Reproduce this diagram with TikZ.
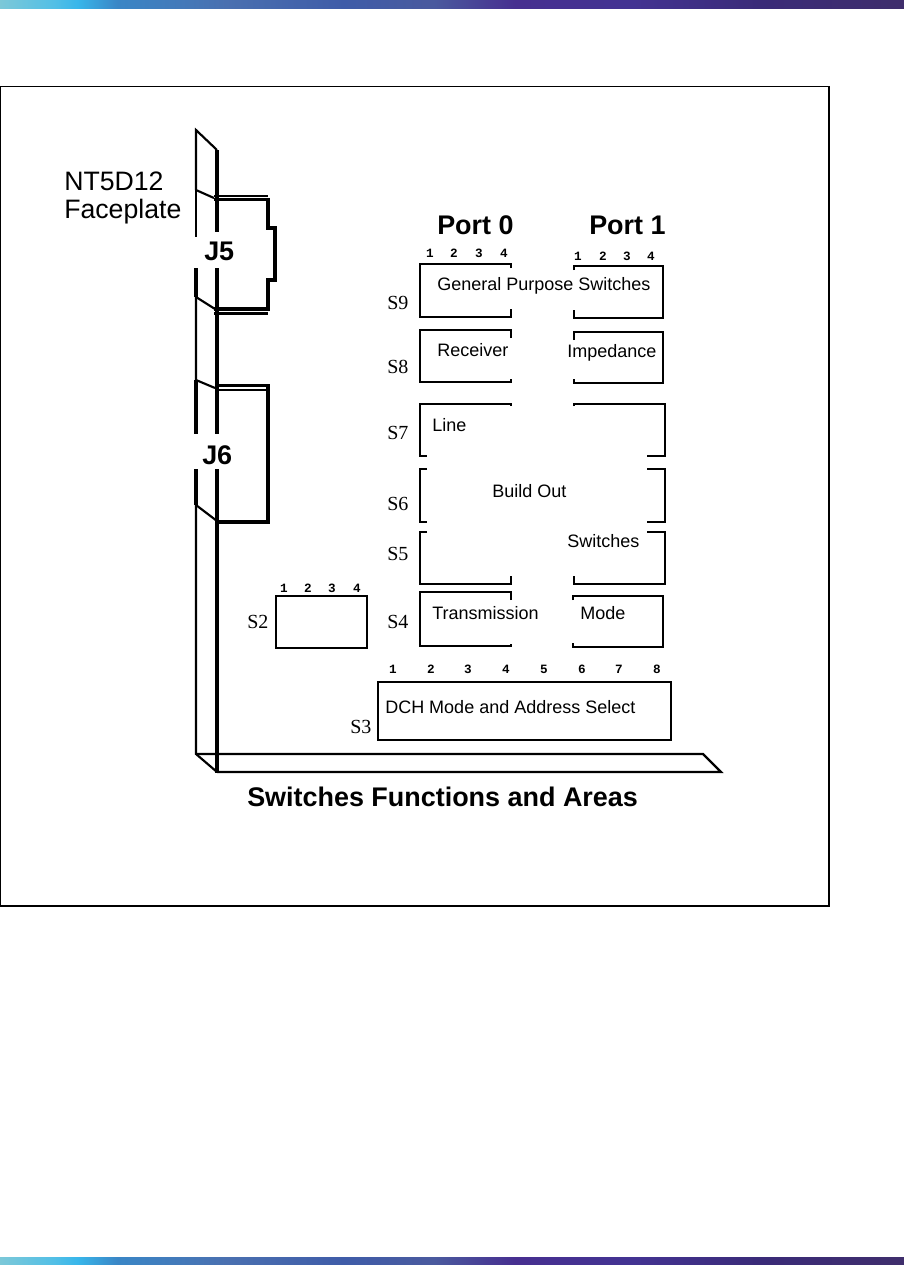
\documentclass[tikz,border=0pt]{standalone}
\usepackage{fontspec}
\setmainfont{Liberation Sans}
\newfontfamily\serifS{Liberation Serif}
\newfontfamily\monoD{Liberation Mono}[BoldFont={Liberation Mono Bold}]
\definecolor{c0}{HTML}{7CC8D8}\definecolor{c1}{HTML}{52BFE6}\definecolor{c2}{HTML}{38B6EA}
\definecolor{c3}{HTML}{3A86C6}\definecolor{c4}{HTML}{4A70B0}\definecolor{c5}{HTML}{3F5CA8}
\definecolor{c6}{HTML}{4A5A9E}\definecolor{c7}{HTML}{472F90}\definecolor{c8}{HTML}{433392}
\definecolor{c9}{HTML}{3A2B78}\definecolor{c10}{HTML}{3F2E6C}
\pgfdeclarehorizontalshading{bandshade}{100bp}{
 color(0bp)=(c0); color(25bp)=(c0); color(28bp)=(c1); color(29.3bp)=(c2); color(31.5bp)=(c3);
 color(37.5bp)=(c4); color(44bp)=(c5); color(49bp)=(c6); color(53.5bp)=(c7); color(60bp)=(c8);
 color(67bp)=(c9); color(75bp)=(c10); color(100bp)=(c10)}
\tikzset{
 x=0.75pt,y=-0.75pt,
 band/.style={shading=bandshade,shading angle=0,draw=none},
 frameline/.style={draw=black,line width=1.1pt},
 box/.style={draw=black,line width=1.7pt,line cap=butt,line join=miter},
 plate/.style={draw=black,line width=1.6pt,line join=miter},
 thick plate/.style={draw=black,line width=2.5pt,line join=miter},
 thin plate/.style={draw=black,line width=1pt},
 lbl/.style={inner sep=0pt,anchor=base west,font=\fontsize{13.5}{16}\selectfont},
 sname/.style={inner sep=0pt,anchor=base west,font=\serifS\fontsize{15}{18}\selectfont},
 dig/.style={inner sep=0pt,font=\monoD\bfseries\fontsize{9.5}{10}\selectfont},
 head/.style={inner sep=0pt,anchor=base west,font=\bfseries\fontsize{20.2}{24}\selectfont},
}
\begin{document}
\begin{tikzpicture}
\useasboundingbox (0,0) rectangle (904,1265);
\fill[white] (0,0) rectangle (904,1265);
\path[band] (0,0) rectangle (904,8);
\path[band] (0,1257) rectangle (904,1265);
\draw[frameline] (0.5,86.5) rectangle (829,906);

% faceplate
\draw[plate] (196,190) -- (196,130) -- (217,150);
\draw[plate] (196,190) -- (214,198);
\draw[plate] (196,190) -- (196,237);
\draw[plate] (196,297) -- (215,309);
\draw[thick plate] (196,268) -- (196,297);
\draw[plate] (196,297) -- (196,380) -- (215,388);
\draw[thick plate] (196,380) -- (196,434);
\draw[thick plate] (196,469) -- (196,505);
\draw[plate] (196,505) -- (217,521);
\draw[plate] (196,505) -- (196,754) -- (217,772);
\draw[thick plate] (217,150) -- (217,232);
\draw[thick plate] (217,268) -- (217,434);
\draw[thick plate] (217,469) -- (217,773);
% J5 connector
\draw[thick plate] (214,199.5) -- (268,199.5) -- (268,228) -- (275,228) -- (275,280) -- (268,280) -- (268,309) -- (214,309);
\draw[thin plate] (214,196) -- (268,196);
\draw[plate] (214,313.5) -- (268,313.5);
% J6 connector
\draw[thick plate] (216,385.5) -- (268,385.5) -- (268,522) -- (216,522);
\draw[thin plate] (216,390) -- (266,390);
% base
\draw[plate] (196,754) -- (703,754) -- (721,772) -- (217,772);

% S9
\draw[box] (511,268) -- (511,264) -- (420,264) -- (420,317) -- (511,317) -- (511,309);
\draw[box] (574,270) -- (574,266) -- (663,266) -- (663,318) -- (574,318) -- (574,310);
% S8
\draw[box] (511,338) -- (511,330) -- (420,330) -- (420,382) -- (511,382) -- (511,379);
\draw[box] (574,340) -- (574,332) -- (663,332) -- (663,383) -- (574,383) -- (574,379);
% S7
\draw[box] (511,406) -- (511,404) -- (420,404) -- (420,456) -- (427,456);
\draw[box] (574,406) -- (574,404) -- (665,404) -- (665,456) -- (647,456);
% S6
\draw[box] (427,469) -- (420,469) -- (420,522) -- (427,522);
\draw[box] (647,469) -- (665,469) -- (665,522) -- (647,522);
% S5
\draw[box] (427,532) -- (420,532) -- (420,584) -- (511,584) -- (511,576);
\draw[box] (647,532) -- (665,532) -- (665,584) -- (574,584) -- (574,576);
% S4
\draw[box] (511,600) -- (511,592) -- (420,592) -- (420,646) -- (511,646) -- (511,644);
\draw[box] (573,600) -- (573,596) -- (663,596) -- (663,647) -- (573,647) -- (573,643);
% S2, S3
\draw[box] (276,596) rectangle (367,648);
\draw[box] (378,682) rectangle (671,740);

% texts
\node[inner sep=0pt,anchor=base west,font=\fontsize{20}{24}\selectfont] (nt) at (64,190) {NT5D12};
\node[inner sep=0pt,anchor=base west,font=\fontsize{20}{24}\selectfont] (fp) at (64,218) {Faceplate};
\node[head] (p0) at (437,234) {Port 0};
\node[head] (p1) at (589,234) {Port 1};
\node[head] (j5) at (204,260) {J5};
\node[head] (j6) at (202,464) {J6};
\node[head] (title) at (247,806) {Switches Functions and Areas};

\node[lbl] (t1) at (437,290) {General Purpose Switches};
\node[lbl] (t2) at (437,356) {Receiver};
\node[lbl] (t3) at (567,357) {Impedance};
\node[lbl] (t4) at (432,431) {Line};
\node[lbl] (t5) at (492,497) {Build Out};
\node[lbl] (t6) at (567,547) {Switches};
\node[lbl] (t7) at (432,619) {Transmission};
\node[lbl] (t8) at (580,619) {Mode};
\node[lbl] (t9) at (385,713) {DCH Mode and Address Select};

\node[sname] (s9) at (387,309) {S9};
\node[sname] (s8) at (387,373) {S8};
\node[sname] (s7) at (387,439) {S7};
\node[sname] (s6) at (387,510) {S6};
\node[sname] (s5) at (387,560) {S5};
\node[sname] (s4) at (387,628) {S4};
\node[sname] (s2) at (247,628) {S2};
\node[sname] (s3) at (350,733) {S3};

\foreach \n/\x in {1/430,2/454,3/479,4/504}{\node[dig] (pa\n) at (\x,253) {\n};}
\foreach \n/\x in {1/578,2/603,3/627,4/651}{\node[dig] (pb\n) at (\x,256) {\n};}
\foreach \n/\x in {1/284,2/308,3/332,4/357}{\node[dig] (sb\n) at (\x,588) {\n};}
\foreach \n/\x in {1/393,2/431,3/468,4/506,5/544,6/582,7/619,8/657}{\node[dig] (sc\n) at (\x,669) {\n};}
\end{tikzpicture}
\end{document}
